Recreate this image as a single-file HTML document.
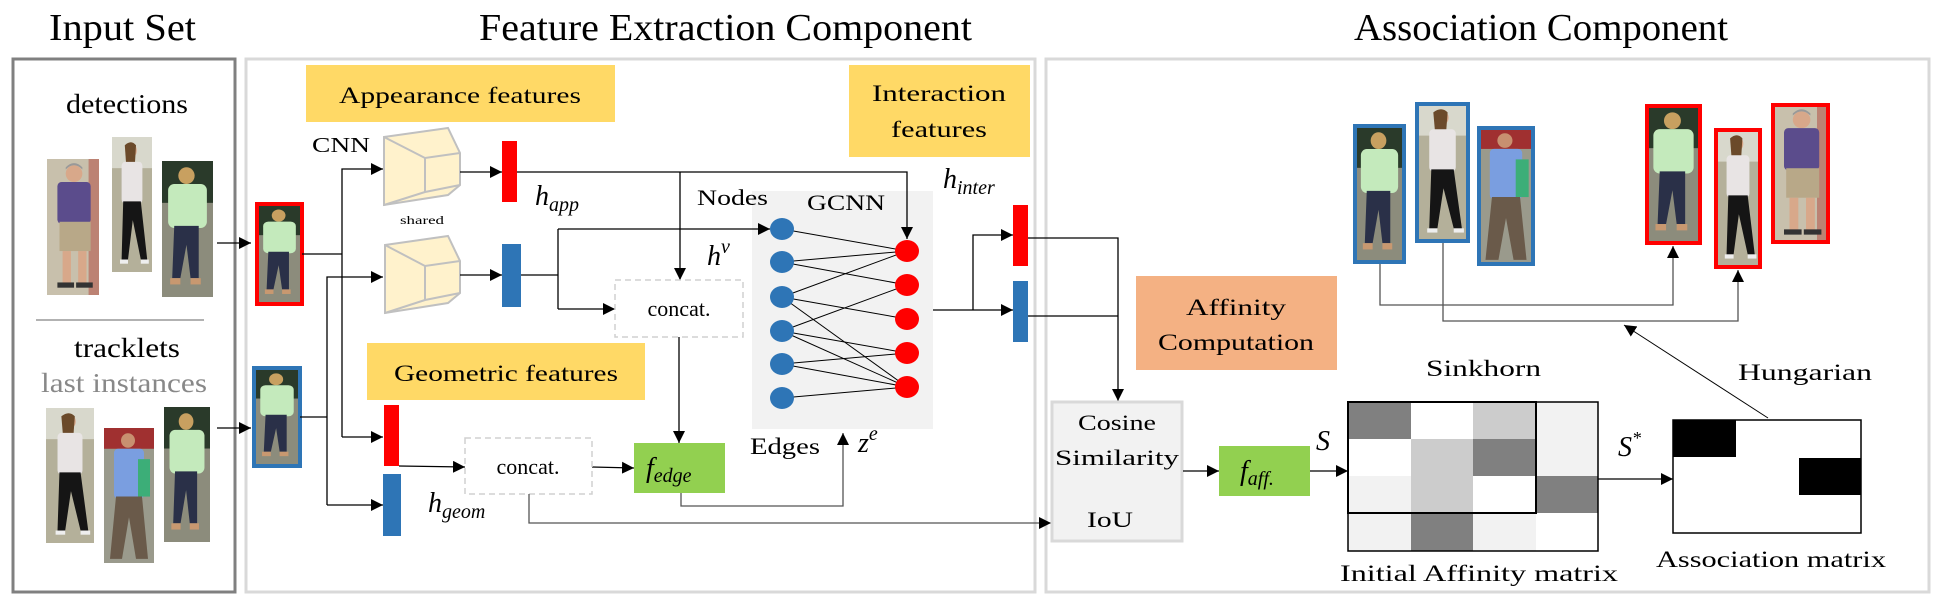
<!DOCTYPE html>
<html><head><meta charset="utf-8"><style>
html,body{margin:0;padding:0;background:#fff;}
svg{display:block;}
.m{font-style:italic;}
</style></head><body>
<svg width="1936" height="600" viewBox="0 0 1936 600" xmlns="http://www.w3.org/2000/svg" font-family="'Liberation Serif','DejaVu Serif',serif">
<defs>
<marker id="ar" viewBox="0 0 10 10" refX="10" refY="5" markerWidth="12" markerHeight="12" markerUnits="userSpaceOnUse" orient="auto"><path d="M0,0 L10,5 L0,10 z" fill="#000"/></marker>
<symbol id="pA" viewBox="0 0 50 130" preserveAspectRatio="none">
<rect width="50" height="130" fill="#c8c0ac"/><rect x="40" width="10" height="130" fill="#b0443a" opacity=".5"/>
<circle cx="26" cy="14" r="8" fill="#d8a88a"/><path d="M18,10 Q26,2 34,10 L34,8 Q26,0 18,8z" fill="#999"/>
<rect x="10" y="22" width="32" height="40" rx="4" fill="#5b4c8c"/>
<rect x="12" y="60" width="30" height="28" fill="#b8a888"/>
<rect x="15" y="88" width="8" height="32" fill="#d8a88a"/><rect x="30" y="88" width="8" height="32" fill="#d8a88a"/>
<rect x="10" y="118" width="16" height="5" fill="#333"/><rect x="28" y="118" width="16" height="5" fill="#333"/>
</symbol>
<symbol id="pB" viewBox="0 0 50 130" preserveAspectRatio="none">
<rect width="50" height="130" fill="#b4b09a"/><rect width="50" height="30" fill="#d8d8cc"/>
<circle cx="24" cy="13" r="7" fill="#d8a88a"/><path d="M16,8 Q24,2 30,8 L28,34 L18,30z" fill="#6b4a2a"/>
<rect x="12" y="24" width="26" height="40" rx="4" fill="#e8e4e4"/>
<path d="M14,62 L36,62 L44,118 L36,118 L26,80 L20,118 L12,118z" fill="#151515"/>
<rect x="10" y="118" width="10" height="4" fill="#eee"/><rect x="36" y="118" width="10" height="4" fill="#eee"/>
</symbol>
<symbol id="pC" viewBox="0 0 50 130" preserveAspectRatio="none">
<rect width="50" height="130" fill="#8c8c7c"/><rect width="50" height="40" fill="#2a3a2a"/>
<circle cx="24" cy="14" r="8" fill="#c8a060"/>
<rect x="6" y="22" width="38" height="42" rx="6" fill="#c4eabc"/>
<path d="M12,62 L36,62 L36,112 L28,112 L24,80 L18,112 L10,112z" fill="#2a3048"/>
<rect x="8" y="112" width="10" height="6" fill="#c89870"/><rect x="28" y="112" width="10" height="6" fill="#c89870"/>
</symbol>
<symbol id="pD" viewBox="0 0 50 130" preserveAspectRatio="none">
<rect width="50" height="130" fill="#9a9a8c"/><rect width="50" height="20" fill="#a03030"/>
<circle cx="24" cy="12" r="7" fill="#c89070"/>
<rect x="10" y="20" width="30" height="48" rx="4" fill="#7a9ee0"/>
<rect x="34" y="30" width="12" height="36" fill="#3cae78"/>
<path d="M12,66 L38,66 L44,126 L32,126 L25,86 L18,126 L6,126z" fill="#6a5a4a"/>
</symbol>
</defs>

<!-- titles -->
<text x="49" y="40" font-size="38" textLength="147" lengthAdjust="spacingAndGlyphs">Input Set</text>
<text x="479" y="40" font-size="38" textLength="493" lengthAdjust="spacingAndGlyphs">Feature Extraction Component</text>
<text x="1354" y="40" font-size="38" textLength="374" lengthAdjust="spacingAndGlyphs">Association Component</text>

<!-- big boxes -->
<rect x="13" y="59" width="222" height="533" fill="none" stroke="#808080" stroke-width="3"/>
<rect x="246" y="59" width="789" height="533" fill="none" stroke="#d9d9d9" stroke-width="3"/>
<rect x="1046" y="59" width="883" height="533" fill="none" stroke="#d9d9d9" stroke-width="3"/>

<!-- GCNN background first -->
<rect x="752" y="191" width="181" height="238" fill="#f2f2f2"/>

<!-- input set -->
<text x="66" y="113" font-size="27" textLength="122" lengthAdjust="spacingAndGlyphs">detections</text>
<use href="#pA" x="47" y="159" width="52" height="136"/>
<use href="#pB" x="112" y="137" width="40" height="135"/>
<use href="#pC" x="162" y="161" width="51" height="136"/>
<line x1="36" y1="320" x2="204" y2="320" stroke="#666" stroke-width="1"/>
<text x="74" y="357" font-size="27" textLength="106" lengthAdjust="spacingAndGlyphs">tracklets</text>
<text x="41" y="392" font-size="27" fill="#888" textLength="166" lengthAdjust="spacingAndGlyphs">last instances</text>
<use href="#pB" x="46" y="408" width="48" height="135"/>
<use href="#pD" x="104" y="428" width="50" height="135"/>
<use href="#pC" x="164" y="407" width="46" height="135"/>
<line x1="217" y1="243" x2="251" y2="243" stroke="#000" stroke-width="1.3" marker-end="url(#ar)"/>
<line x1="217" y1="428" x2="251" y2="428" stroke="#000" stroke-width="1.3" marker-end="url(#ar)"/>

<!-- input bboxes -->
<use href="#pC" x="258" y="205" width="43" height="98"/>
<rect x="257" y="204" width="45" height="100" fill="none" stroke="#f00" stroke-width="4"/>
<use href="#pC" x="255" y="369" width="44" height="96"/>
<rect x="254" y="368" width="46" height="98" fill="none" stroke="#2e75b6" stroke-width="4"/>

<!-- feature boxes -->
<rect x="306" y="65" width="309" height="57" fill="#ffd966"/>
<text x="460" y="103" font-size="23" text-anchor="middle" textLength="242" lengthAdjust="spacingAndGlyphs">Appearance features</text>
<rect x="367" y="343" width="278" height="57" fill="#ffd966"/>
<text x="506" y="381" font-size="23" text-anchor="middle" textLength="224" lengthAdjust="spacingAndGlyphs">Geometric features</text>
<rect x="849" y="65" width="181" height="92" fill="#ffd966"/>
<text x="939" y="101" font-size="23" text-anchor="middle" textLength="134" lengthAdjust="spacingAndGlyphs">Interaction</text>
<text x="939" y="137" font-size="23" text-anchor="middle" textLength="96" lengthAdjust="spacingAndGlyphs">features</text>

<!-- connectors from bboxes -->
<g stroke="#000" stroke-width="1.3" fill="none">
<polyline points="302,254 342,254"/>
<polyline points="342,437 342,169 383,169" marker-end="url(#ar)"/>
<polyline points="342,437 383,437" marker-end="url(#ar)"/>
<polyline points="300,417 327,417"/>
<polyline points="327,505 327,277 383,277" marker-end="url(#ar)"/>
<polyline points="327,505 383,505" marker-end="url(#ar)"/>
</g>
<text x="312" y="152" font-size="21" textLength="58" lengthAdjust="spacingAndGlyphs">CNN</text>

<!-- CNN shapes -->
<g fill="#fff2cc" stroke="#c0c0c0" stroke-width="2">
<path d="M384,137 L448,128 L460,153 L460,185 L448,195 L384,205z"/>
<path d="M384,137 L425,158 L460,153 M425,158 L425,192 L460,185 M425,192 L384,205" fill="none"/>
<path d="M385,245 L448,236 L460,261 L460,293 L448,303 L385,313z"/>
<path d="M385,245 L425,266 L460,261 M425,266 L425,300 L460,293 M425,300 L385,313" fill="none"/>
</g>
<text x="400" y="224" font-size="12" textLength="44" lengthAdjust="spacingAndGlyphs">shared</text>

<!-- feature bars -->
<g stroke="#000" stroke-width="1.3" fill="none">
<line x1="460" y1="172" x2="502" y2="172" marker-end="url(#ar)"/>
<line x1="460" y1="275" x2="502" y2="275" marker-end="url(#ar)"/>
<polyline points="517,172 907,172 907,239" marker-end="url(#ar)"/>
<polyline points="680,172 680,280" marker-end="url(#ar)"/>
<polyline points="521,275 558,275"/>
<polyline points="558,229 558,309"/>
<polyline points="558,229 770,229" marker-end="url(#ar)"/>
<polyline points="558,309 615,309" marker-end="url(#ar)"/>
<polyline points="679,337 679,443" marker-end="url(#ar)"/>
<polyline points="399,466 465,467" marker-end="url(#ar)"/>
<polyline points="592,467 634,468" marker-end="url(#ar)"/>
</g>
<rect x="502" y="141" width="15" height="61" fill="#f00"/>
<rect x="502" y="244" width="19" height="63" fill="#2e75b6"/>
<rect x="384" y="405" width="15" height="61" fill="#f00"/>
<rect x="383" y="474" width="18" height="62" fill="#2e75b6"/>
<text x="535" y="205" font-size="28" class="m">h<tspan font-size="20" dy="6">app</tspan></text>
<text x="707" y="265" font-size="28" class="m">h<tspan font-size="20" dy="-12">v</tspan></text>
<text x="428" y="512" font-size="28" class="m">h<tspan font-size="20" dy="6">geom</tspan></text>

<!-- concat boxes -->
<rect x="615" y="280" width="128" height="57" fill="#fff" stroke="#d0d0d0" stroke-width="1.5" stroke-dasharray="6,4"/>
<text x="679" y="316" font-size="22" text-anchor="middle">concat.</text>
<rect x="465" y="438" width="127" height="56" fill="#fff" stroke="#d0d0d0" stroke-width="1.5" stroke-dasharray="6,4"/>
<text x="528" y="474" font-size="22" text-anchor="middle">concat.</text>

<!-- f_edge -->
<rect x="634" y="443" width="91" height="50" fill="#92d050"/>
<text x="646" y="477" font-size="28" class="m">f<tspan font-size="20" dy="5">edge</tspan></text>
<g stroke="#555" stroke-width="1.3" fill="none">
<polyline points="681,493 681,506 843,506 843,433" marker-end="url(#ar)"/>
<polyline points="529,494 529,523 1051,523" marker-end="url(#ar)"/>
</g>
<text x="750" y="454" font-size="23" textLength="70" lengthAdjust="spacingAndGlyphs">Edges</text>
<text x="858" y="452" font-size="28" class="m">z<tspan font-size="20" dy="-12">e</tspan></text>

<!-- GCNN -->
<text x="697" y="205" font-size="22" textLength="71" lengthAdjust="spacingAndGlyphs">Nodes</text>
<text x="807" y="210" font-size="22" textLength="78" lengthAdjust="spacingAndGlyphs">GCNN</text>
<g stroke="#000" stroke-width="1">
<line x1="782" y1="229" x2="907" y2="251"/>
<line x1="782" y1="262" x2="907" y2="251"/>
<line x1="782" y1="262" x2="907" y2="285"/>
<line x1="782" y1="297" x2="907" y2="251"/>
<line x1="782" y1="297" x2="907" y2="319"/>
<line x1="782" y1="297" x2="907" y2="387"/>
<line x1="782" y1="331" x2="907" y2="285"/>
<line x1="782" y1="331" x2="907" y2="353"/>
<line x1="782" y1="331" x2="907" y2="387"/>
<line x1="782" y1="364" x2="907" y2="353"/>
<line x1="782" y1="364" x2="907" y2="387"/>
<line x1="782" y1="398" x2="907" y2="387"/>
</g>
<g fill="#2e75b6">
<ellipse cx="782" cy="229" rx="12" ry="11"/><ellipse cx="782" cy="262" rx="12" ry="11"/>
<ellipse cx="782" cy="297" rx="12" ry="11"/><ellipse cx="782" cy="331" rx="12" ry="11"/>
<ellipse cx="782" cy="364" rx="12" ry="11"/><ellipse cx="782" cy="398" rx="12" ry="11"/>
</g>
<g fill="#f00">
<ellipse cx="907" cy="251" rx="12" ry="11"/><ellipse cx="907" cy="285" rx="12" ry="11"/>
<ellipse cx="907" cy="319" rx="12" ry="11"/><ellipse cx="907" cy="353" rx="12" ry="11"/>
<ellipse cx="907" cy="387" rx="12" ry="11"/>
</g>

<!-- interaction -->
<g stroke="#000" stroke-width="1.3" fill="none">
<polyline points="933,310 1013,310" marker-end="url(#ar)"/>
<polyline points="973,310 973,235 1013,235" marker-end="url(#ar)"/>
<polyline points="1028,238 1118,238 1118,401" marker-end="url(#ar)"/>
<polyline points="1028,316 1118,316"/>
</g>
<rect x="1013" y="205" width="15" height="61" fill="#f00"/>
<rect x="1013" y="281" width="15" height="61" fill="#2e75b6"/>
<text x="943" y="188" font-size="28" class="m">h<tspan font-size="20" dy="6">inter</tspan></text>

<!-- association -->
<rect x="1136" y="276" width="201" height="94" fill="#f4b183"/>
<text x="1236" y="315" font-size="23" text-anchor="middle" textLength="100" lengthAdjust="spacingAndGlyphs">Affinity</text>
<text x="1236" y="350" font-size="23" text-anchor="middle" textLength="156" lengthAdjust="spacingAndGlyphs">Computation</text>

<rect x="1052" y="402" width="130" height="139" fill="#f2f2f2" stroke="#d9d9d9" stroke-width="3"/>
<text x="1117" y="430" font-size="22" text-anchor="middle" textLength="78" lengthAdjust="spacingAndGlyphs">Cosine</text>
<text x="1117" y="465" font-size="22" text-anchor="middle" textLength="124" lengthAdjust="spacingAndGlyphs">Similarity</text>
<text x="1110" y="527" font-size="22" text-anchor="middle" textLength="46" lengthAdjust="spacingAndGlyphs">IoU</text>
<g stroke="#000" stroke-width="1.3" fill="none">
<line x1="1183" y1="471" x2="1219" y2="471" marker-end="url(#ar)"/>
<line x1="1310" y1="471" x2="1348" y2="471" marker-end="url(#ar)"/>
<line x1="1598" y1="479" x2="1673" y2="479" marker-end="url(#ar)"/>
</g>
<rect x="1219" y="446" width="91" height="50" fill="#92d050"/>
<text x="1240" y="480" font-size="28" class="m">f<tspan font-size="20" dy="5">aff.</tspan></text>
<text x="1316" y="450" font-size="28" class="m">S</text>
<text x="1618" y="456" font-size="28" class="m">S<tspan font-size="18" dy="-12">*</tspan></text>

<!-- initial affinity matrix -->
<g>
<rect x="1348" y="402" width="63" height="37" fill="#808080"/><rect x="1411" y="402" width="62" height="37" fill="#fff"/><rect x="1473" y="402" width="63" height="37" fill="#cccccc"/><rect x="1536" y="402" width="62" height="37" fill="#f2f2f2"/>
<rect x="1348" y="439" width="63" height="37" fill="#fff"/><rect x="1411" y="439" width="62" height="37" fill="#cccccc"/><rect x="1473" y="439" width="63" height="37" fill="#808080"/><rect x="1536" y="439" width="62" height="37" fill="#f2f2f2"/>
<rect x="1348" y="476" width="63" height="37" fill="#f2f2f2"/><rect x="1411" y="476" width="62" height="37" fill="#cccccc"/><rect x="1473" y="476" width="63" height="37" fill="#fff"/><rect x="1536" y="476" width="62" height="37" fill="#808080"/>
<rect x="1348" y="513" width="63" height="38" fill="#f2f2f2"/><rect x="1411" y="513" width="62" height="38" fill="#808080"/><rect x="1473" y="513" width="63" height="38" fill="#f2f2f2"/><rect x="1536" y="513" width="62" height="38" fill="#fff"/>
<rect x="1348" y="402" width="250" height="149" fill="none" stroke="#000" stroke-width="1.5"/>
<rect x="1348" y="402" width="188" height="111" fill="none" stroke="#000" stroke-width="2"/>
</g>
<text x="1426" y="376" font-size="23" textLength="115" lengthAdjust="spacingAndGlyphs">Sinkhorn</text>
<text x="1340" y="581" font-size="23" textLength="278" lengthAdjust="spacingAndGlyphs">Initial Affinity matrix</text>

<!-- association matrix -->
<rect x="1673" y="420" width="188" height="113" fill="#fff" stroke="#000" stroke-width="1.5"/>
<rect x="1673" y="420" width="63" height="37" fill="#000"/>
<rect x="1799" y="458" width="62" height="37" fill="#000"/>
<text x="1656" y="567" font-size="23" textLength="230" lengthAdjust="spacingAndGlyphs">Association matrix</text>
<text x="1738" y="380" font-size="23" textLength="134" lengthAdjust="spacingAndGlyphs">Hungarian</text>
<line x1="1768" y1="418" x2="1624" y2="325" stroke="#000" stroke-width="1" marker-end="url(#ar)"/>

<!-- tracklet/detection crops -->
<use href="#pC" x="1355" y="126" width="49" height="136"/>
<rect x="1355" y="126" width="49" height="136" fill="none" stroke="#2e75b6" stroke-width="4"/>
<use href="#pB" x="1417" y="104" width="51" height="137"/>
<rect x="1417" y="104" width="51" height="137" fill="none" stroke="#2e75b6" stroke-width="4"/>
<use href="#pD" x="1479" y="128" width="54" height="136"/>
<rect x="1479" y="128" width="54" height="136" fill="none" stroke="#2e75b6" stroke-width="4"/>
<use href="#pC" x="1647" y="106" width="53" height="137"/>
<rect x="1647" y="106" width="53" height="137" fill="none" stroke="#f00" stroke-width="4"/>
<use href="#pB" x="1716" y="130" width="44" height="137"/>
<rect x="1716" y="130" width="44" height="137" fill="none" stroke="#f00" stroke-width="4"/>
<use href="#pA" x="1773" y="105" width="55" height="137"/>
<rect x="1773" y="105" width="55" height="137" fill="none" stroke="#f00" stroke-width="4"/>
<g stroke="#555" stroke-width="1.3" fill="none">
<polyline points="1380,264 1380,305 1673,305 1673,246" marker-end="url(#ar)"/>
<polyline points="1443,243 1443,321 1738,321 1738,270" marker-end="url(#ar)"/>
</g>
</svg>
</body></html>
